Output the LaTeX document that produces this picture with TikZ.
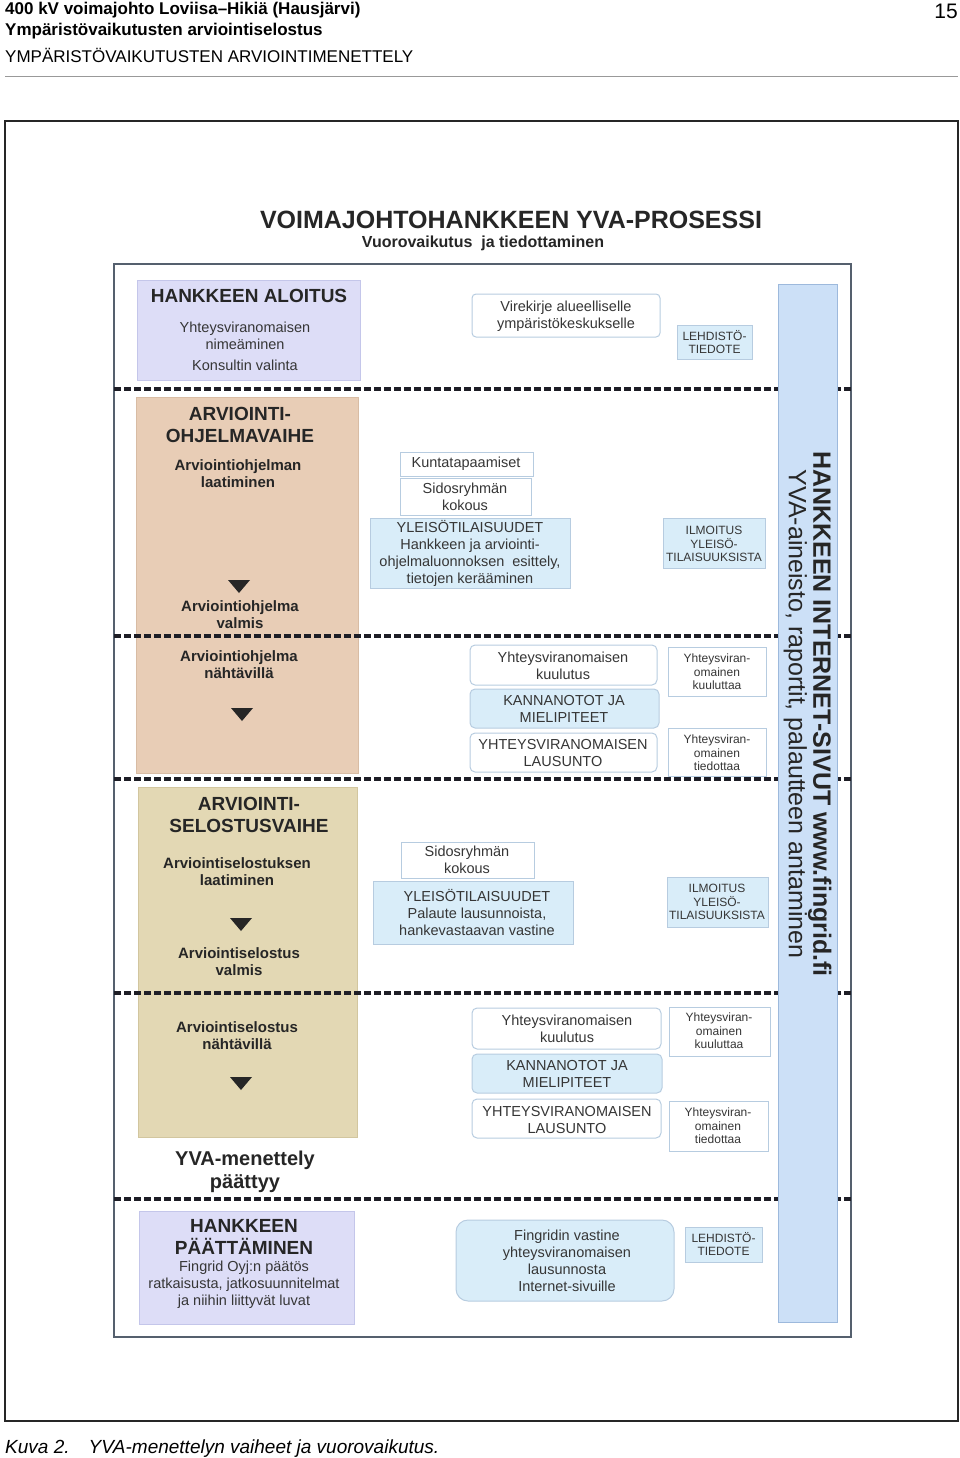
\documentclass[tikz,border=0pt]{standalone}
\usepackage{fontspec}
\setmainfont{Liberation Sans}
\usetikzlibrary{positioning}
\definecolor{ink}{HTML}{363636}
\definecolor{dark}{HTML}{262626}
\definecolor{lavender}{HTML}{DDDDF7}
\definecolor{lavedge}{HTML}{C4C6EA}
\definecolor{tan}{HTML}{E8CDB6}
\definecolor{tanedge}{HTML}{D8BCA4}
\definecolor{khaki}{HTML}{E3D8B4}
\definecolor{khakiedge}{HTML}{D2C69F}
\definecolor{colblue}{HTML}{CCE0F7}
\definecolor{coledge}{HTML}{9DB9DC}
\definecolor{paleblue}{HTML}{D9EDF9}
\definecolor{boxedge}{HTML}{B7CCE0}
\definecolor{dashgray}{HTML}{1E1E26}
\definecolor{framegray}{HTML}{55606E}

\tikzset{
  lbl/.style={text=ink, align=center, inner sep=0pt},
  phasetxt/.style={lbl, text=dark, font=\bfseries\fontsize{19}{22}\selectfont},
  stagetxt/.style={lbl, text=dark, font=\bfseries\fontsize{15}{17}\selectfont},
  boxtxt/.style={lbl, font=\fontsize{14.5}{17}\selectfont},
  smalltxt/.style={lbl, font=\fontsize{12}{13.5}\selectfont},
  whitebox/.style={draw=boxedge, fill=white, line width=1pt},
  bluebox/.style={draw=boxedge, fill=paleblue, line width=1pt},
  divider/.style={dashgray, line width=3.2pt, dash pattern=on 7pt off 3pt},
}

\begin{document}
\begin{tikzpicture}[x=1pt, y=-1pt]
  \useasboundingbox (0,0) rectangle (960,1458);
  % page header
  \node[inner sep=0pt, anchor=base west, font=\bfseries\fontsize{17}{20}\selectfont] (hdrline) at (5,15) {400 kV voimajohto Loviisa–Hikiä (Hausjärvi)};
  \node[inner sep=0pt, anchor=base west, font=\bfseries\fontsize{17}{20}\selectfont] (hdrdoc) at (5,36) {Ympäristövaikutusten arviointiselostus};
  \node[inner sep=0pt, anchor=base west, font=\fontsize{17}{20}\selectfont] (hdrchap) at (5,63) {YMPÄRISTÖVAIKUTUSTEN ARVIOINTIMENETTELY};
  \node[inner sep=0pt, anchor=base east, font=\fontsize{21}{24}\selectfont] (pageno) at (958,19) {15};
  \draw[gray!80, line width=1pt] (5,77) -- (958,77);
  \draw[dark, line width=1.2pt] (5,121) rectangle (958,1421);
  \node[inner sep=0pt, anchor=base west, font=\itshape\fontsize{19}{22}\selectfont] (caption) at (5,1453) {Kuva 2.\quad YVA-menettelyn vaiheet ja vuorovaikutus.};

  % title
  \node[anchor=base, text=dark, font=\bfseries\fontsize{25}{28}\selectfont] (title) at (511,228) {VOIMAJOHTOHANKKEEN YVA-PROSESSI};
  \node[anchor=base, text=dark, font=\bfseries\fontsize{16}{19}\selectfont] (subtitle) at (483,247) {Vuorovaikutus\ \ ja tiedottaminen};

  % frame
  \draw[framegray, line width=2pt] (114,264) rectangle (851,1337);

  % left column: phases
  \draw[lavedge, fill=lavender, line width=1pt] (137,280) rectangle (360,380);
  \node[phasetxt] (aloitus) at (249,296) {HANKKEEN ALOITUS};
  \node[boxtxt] (nimeaminen) at (245,336) {Yhteysviranomaisen\\nimeäminen};
  \node[boxtxt] (konsultti) at (245,365) {Konsultin valinta};

  \draw[tanedge, fill=tan, line width=1pt] (136,397) rectangle (358,773);
  \node[phasetxt] (ohjelmavaihe) at (240,425) {ARVIOINTI-\\OHJELMAVAIHE};
  \node[stagetxt] (ohjlaadinta) at (238,474) {Arviointiohjelman\\laatiminen};
  \fill[dark] (228,580) -- (250,580) -- (239,593) -- cycle;
  \node[stagetxt] (ohjvalmis) at (240,615) {Arviointiohjelma\\valmis};
  \node[stagetxt] (ohjnahtavilla) at (239,665) {Arviointiohjelma\\nähtävillä};
  \fill[dark] (231,708) -- (253,708) -- (242,721) -- cycle;

  \draw[khakiedge, fill=khaki, line width=1pt] (138,787) rectangle (357,1137);
  \node[phasetxt] (selostusvaihe) at (249,815) {ARVIOINTI-\\SELOSTUSVAIHE};
  \node[stagetxt] (sellaadinta) at (237,872) {Arviointiselostuksen\\laatiminen};
  \fill[dark] (230,918) -- (252,918) -- (241,931) -- cycle;
  \node[stagetxt] (selvalmis) at (239,962) {Arviointiselostus\\valmis};
  \node[stagetxt] (selnahtavilla) at (237,1036) {Arviointiselostus\\nähtävillä};
  \fill[dark] (230,1077) -- (252,1077) -- (241,1090) -- cycle;

  \node[lbl, text=dark, font=\bfseries\fontsize{20}{23}\selectfont] (yvapaattyy) at (245,1172) {YVA-menettely\\päättyy};

  \draw[lavedge, fill=lavender, line width=1pt] (139,1211) rectangle (354,1324);
  \node[phasetxt] (paattaminen) at (244,1237) {HANKKEEN\\PÄÄTTÄMINEN};
  \node[boxtxt] (paatos) at (244,1285) {Fingrid Oyj:n päätös\\ratkaisusta, jatkosuunnitelmat\\ja niihin liittyvät luvat};

  % phase dividers and web column
  \draw[divider] (114,389) -- (851,389);
  \draw[divider] (114,636) -- (851,636);
  \draw[divider] (114,779) -- (851,779);
  \draw[divider] (114,993) -- (851,993);
  \draw[divider] (114,1199) -- (851,1199);
  \draw[coledge, fill=colblue, line width=1pt] (778,284) rectangle (837,1322);
  \node[lbl, text=dark, rotate=-90, font=\fontsize{25}{21}\selectfont] (websites) at (807.5,714)
    {\textbf{HANKKEEN INTERNET-SIVUT www.fingrid.fi}\\YVA-aineisto, raportit, palautteen antaminen};

  % middle column: interaction
  \draw[whitebox, rounded corners=4pt] (472,294) rectangle (660,337);
  \node[boxtxt] (virekirje) at (566,316) {Virekirje alueelliselle\\ympäristökeskukselle};
  \draw[bluebox] (677,325) rectangle (752,359);
  \node[smalltxt] (lehdisto1) at (714.5,342) {LEHDISTÖ-\\TIEDOTE};

  \draw[whitebox] (400,452) rectangle (533,476);
  \node[boxtxt] (kunta) at (466,464) {Kuntatapaamiset};
  \draw[whitebox] (400,478) rectangle (531,515);
  \node[boxtxt] (sidos1) at (465,497) {Sidosryhmän\\kokous};
  \draw[bluebox] (370,518) rectangle (570,588);
  \node[boxtxt] (yleiso1) at (470,553) {YLEISÖTILAISUUDET\\Hankkeen ja arviointi-\\ohjelmaluonnoksen\ \ esittely,\\tietojen kerääminen};
  \draw[bluebox] (663,518) rectangle (765,568);
  \node[smalltxt] (ilmoitus1) at (714,544) {ILMOITUS\\YLEISÖ-\\TILAISUUKSISTA};

  \draw[whitebox, rounded corners=5pt] (470,645) rectangle (657,685);
  \node[boxtxt] (kuulutus1) at (563,666) {Yhteysviranomaisen\\kuulutus};
  \draw[bluebox, rounded corners=5pt] (470,689) rectangle (659,728);
  \node[boxtxt] (kannanotot1) at (564,709) {KANNANOTOT JA\\MIELIPITEET};
  \draw[whitebox, rounded corners=5pt] (470,733) rectangle (657,772);
  \node[boxtxt] (lausunto1) at (563,753) {YHTEYSVIRANOMAISEN\\LAUSUNTO};
  \draw[whitebox] (668,647) rectangle (766,696);
  \node[smalltxt] (kuuluttaa1) at (717,672) {Yhteysviran-\\omainen\\kuuluttaa};
  \draw[whitebox] (668,728) rectangle (766,776);
  \node[smalltxt] (tiedottaa1) at (717,753) {Yhteysviran-\\omainen\\tiedottaa};

  \draw[whitebox] (401,842) rectangle (534,878);
  \node[boxtxt] (sidos2) at (467,860) {Sidosryhmän\\kokous};
  \draw[bluebox] (373,881) rectangle (573,944);
  \node[boxtxt] (yleiso2) at (477,912) {YLEISÖTILAISUUDET\\Palaute lausunnoista,\\hankevastaavan vastine};
  \draw[bluebox] (667,877) rectangle (768,927);
  \node[smalltxt] (ilmoitus2) at (717,902) {ILMOITUS\\YLEISÖ-\\TILAISUUKSISTA};

  \draw[whitebox, rounded corners=5pt] (472,1008) rectangle (661,1049);
  \node[boxtxt] (kuulutus2) at (567,1029) {Yhteysviranomaisen\\kuulutus};
  \draw[bluebox, rounded corners=5pt] (472,1054) rectangle (662,1093);
  \node[boxtxt] (kannanotot2) at (567,1074) {KANNANOTOT JA\\MIELIPITEET};
  \draw[whitebox, rounded corners=5pt] (472,1099) rectangle (661,1138);
  \node[boxtxt] (lausunto2) at (567,1120) {YHTEYSVIRANOMAISEN\\LAUSUNTO};
  \draw[whitebox] (669,1007) rectangle (770,1056);
  \node[smalltxt] (kuuluttaa2) at (719,1031) {Yhteysviran-\\omainen\\kuuluttaa};
  \draw[whitebox] (669,1101) rectangle (768,1151);
  \node[smalltxt] (tiedottaa2) at (718,1126) {Yhteysviran-\\omainen\\tiedottaa};

  \draw[bluebox, rounded corners=12pt] (456,1220) rectangle (674,1301);
  \node[boxtxt] (vastine) at (567,1261) {Fingridin vastine\\yhteysviranomaisen\\lausunnosta\\Internet-sivuille};
  \draw[bluebox] (685,1227) rectangle (762,1262);
  \node[smalltxt] (lehdisto2) at (723.5,1244) {LEHDISTÖ-\\TIEDOTE};
\end{tikzpicture}
\end{document}
